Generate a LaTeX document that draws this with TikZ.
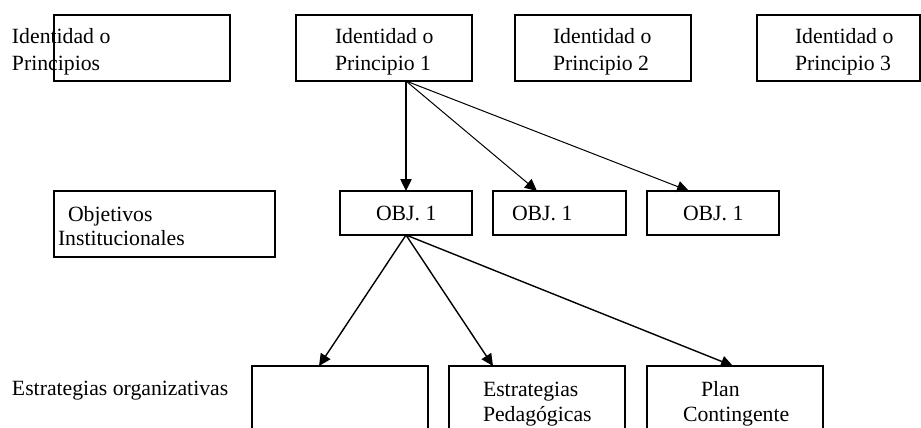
\documentclass[tikz,border=0pt]{standalone}
\usepackage{fontspec}
\setmainfont{Liberation Serif}
\usetikzlibrary{arrows.meta,calc}
\begin{document}
\begin{tikzpicture}[x=0.75pt,y=-0.75pt,
  box/.style={draw,line width=1.1pt,rectangle,inner sep=0pt,outer sep=0pt,anchor=north west,minimum height=49.5pt},
  txt/.style={anchor=base west,inner sep=0pt,outer sep=0pt,font=\fontsize{16.3pt}{19pt}\selectfont},
  thinarrow/.style={line width=0.75pt,-{Triangle[length=9pt,width=8.5pt]}},
  thickarrow/.style={line width=1.05pt,-{Triangle[length=9pt,width=8.5pt]}}]
\useasboundingbox (0,0) rectangle (921,428);
\clip (0,0) rectangle (921,428);
% top row
\node[box,minimum width=132pt] (lb) at (54,15) {};
\node[box,minimum width=132pt] (p1) at (296,15) {};
\node[box,minimum width=132pt] (p2) at (515,15) {};
\node[box,minimum width=122.25pt] (p3) at (757,15) {};
\node[txt] (lt1) at (12,44) {Identidad o};
\node[txt] (lt2) at (12,70) {Principios};
\node[txt] (p1a) at (335,44) {Identidad o};
\node[txt] (p1b) at (335,70) {Principio 1};
\node[txt] (p2a) at (553,44) {Identidad o};
\node[txt] (p2b) at (553,70) {Principio 2};
\node[txt] (p3a) at (795,44) {Identidad o};
\node[txt] (p3b) at (795,70) {Principio 3};
% middle row
\node[box,minimum width=165.75pt] (ob) at (54,191) {};
\node[box,minimum width=99pt,minimum height=33pt] (o1) at (340,191) {};
\node[box,minimum width=99.75pt,minimum height=33pt] (o2) at (493,191) {};
\node[box,minimum width=99pt,minimum height=33pt] (o3) at (647,191) {};
\node[txt] (obt1) at (68,221) {Objetivos};
\node[txt] (obt2) at (58,245) {Institucionales};
\node[txt] (o1t) at (376,220) {OBJ. 1};
\node[txt] (o2t) at (512,220) {OBJ. 1};
\node[txt] (o3t) at (683,220) {OBJ. 1};
% bottom row
\node[box,minimum width=132pt,minimum height=60pt] (b1) at (252,366) {};
\node[box,minimum width=132pt,minimum height=60pt] (b2) at (449,366) {};
\node[box,minimum width=132pt,minimum height=60pt] (b3) at (647,366) {};
\node[txt] (eo) at (12,395) {Estrategias organizativas};
\node[txt] (b2a) at (483,396) {Estrategias};
\node[txt] (b2b) at (483,421) {Pedagógicas};
\node[txt] (b3a) at (701,396) {Plan};
\node[txt] (b3b) at (683,421) {Contingente};
% connectors
\coordinate (p1out) at ($(p1.south west)+(110,0)$);
\coordinate (o1out) at (o1.south);
\draw[thickarrow] (p1out) -- (o1.north);
\draw[thinarrow] (p1out) -- ($(o2.north west)+(44,0)$);
\draw[thinarrow] (p1out) -- ($(o3.north west)+(42,0)$);
\draw[thickarrow] (o1out) -- ($(b1.north west)+(67,0)$);
\draw[thickarrow] (o1out) -- ($(b2.north west)+(44,0)$);
\draw[thickarrow] (o1out) -- ($(b3.north west)+(86,0)$);
\end{tikzpicture}
\end{document}
